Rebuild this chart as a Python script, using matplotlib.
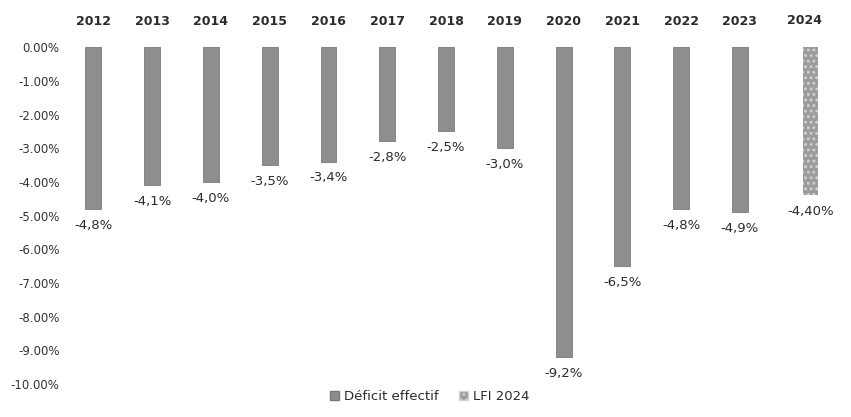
import numpy as np
import matplotlib.pyplot as plt
from matplotlib.ticker import FuncFormatter
from matplotlib.patches import Patch

plt.rcParams['font.family'] = ['DejaVu Sans']
plt.rcParams['hatch.linewidth'] = 1.2

years = ['2012', '2013', '2014', '2015', '2016', '2017', '2018',
         '2019', '2020', '2021', '2022', '2023']
deficit = [-4.8, -4.1, -4.0, -3.5, -3.4, -2.8, -2.5, -3.0, -9.2, -6.5, -4.8, -4.9]
deficit_labels = ['-4,8%', '-4,1%', '-4,0%', '-3,5%', '-3,4%', '-2,8%', '-2,5%',
                  '-3,0%', '-9,2%', '-6,5%', '-4,8%', '-4,9%']
lfi_year = '2024'
lfi = -4.40
lfi_label = '-4,40%'

txt = '#2b2b2b'
bar_col = '#8e8e8e'

fig = plt.figure(figsize=(8.51, 4.17), dpi=100)
ax = fig.add_axes([0.08, 0.079, 0.90, 0.808])

x = np.arange(len(years))
ax.bar(x, deficit, width=0.27, color=bar_col, edgecolor='#7a7a7a', linewidth=0.6)
x_lfi = len(years) + 0.2
ax.bar([x_lfi], [lfi], width=0.27, color='#9c9c9c', edgecolor='#d4d4d4',
       hatch='...', linewidth=0)

for xi, v, lab in zip(x, deficit, deficit_labels):
    ax.annotate(lab, (xi, v), xytext=(0, -7), textcoords='offset points',
                ha='center', va='top', fontsize=9.5, color=txt)
ax.annotate(lfi_label, (x_lfi, lfi), xytext=(0, -7), textcoords='offset points',
            ha='center', va='top', fontsize=9.5, color=txt)

for xi, y in zip(x, years):
    ax.text(xi, 1.075, y, transform=ax.get_xaxis_transform(), ha='center',
            va='center', fontsize=9, fontweight='semibold', color=txt)
ax.text(len(years) + 0.1, 1.08, lfi_year, transform=ax.get_xaxis_transform(),
        ha='center', va='center', fontsize=9, fontweight='semibold', color=txt)

ax.set_ylim(-10, 0)
ax.set_xlim(-0.43, 12.6)
ax.set_yticks(np.arange(0, -10.5, -1))
ax.yaxis.set_major_formatter(FuncFormatter(lambda v, p: '%.2f%%' % v if v != 0 else '0.00%'))
ax.tick_params(axis='y', length=0, labelsize=8.5, labelcolor='#333333', pad=6)
ax.set_xticks([])
for s in ax.spines.values():
    s.set_visible(False)

handles = [Patch(facecolor=bar_col, edgecolor='#7a7a7a'),
           Patch(facecolor='#9c9c9c', edgecolor='#d4d4d4', hatch='...')]
fig.legend(handles, ['Déficit effectif', 'LFI 2024'], loc='center',
           bbox_to_anchor=(0.505, 0.048), ncol=2, frameon=False, fontsize=9.5,
           handlelength=0.7, handleheight=0.7, handletextpad=0.4, columnspacing=1.5,
           labelcolor=txt)

fig.savefig('out.png', dpi=100)
